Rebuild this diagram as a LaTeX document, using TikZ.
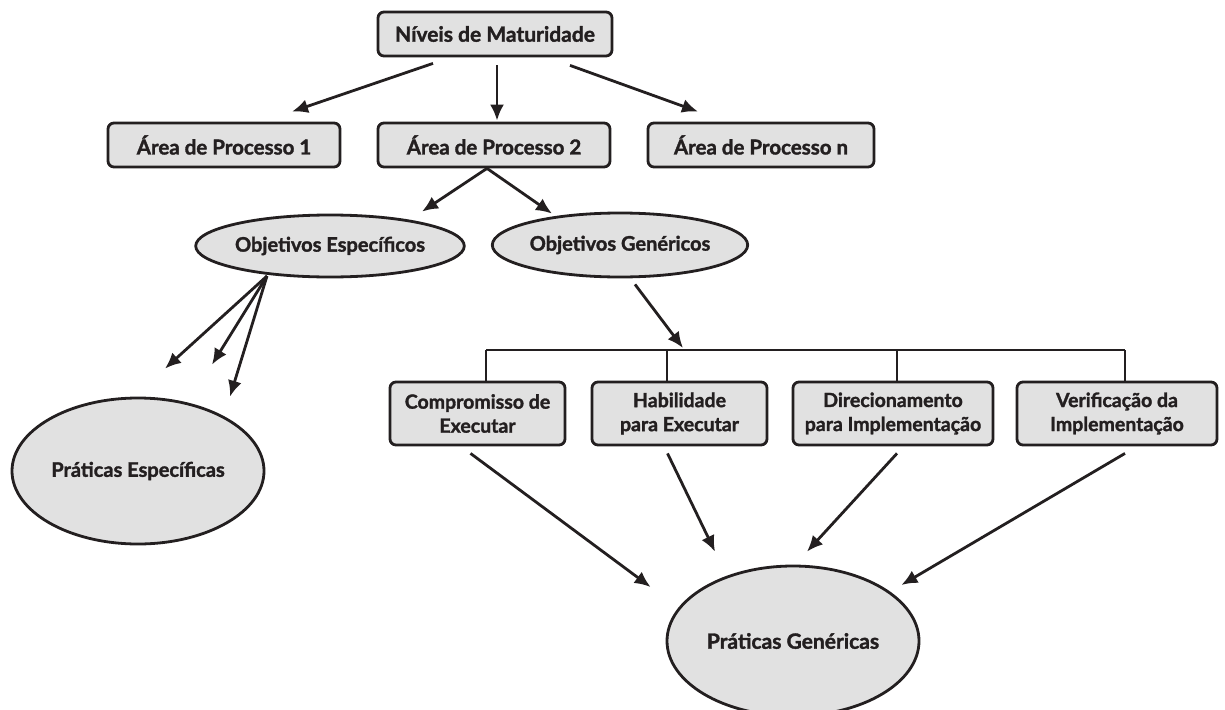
\documentclass[tikz,border=0pt]{standalone}
\usepackage{fontspec}
\setmainfont{Lato}[BoldFeatures={FakeBold=1.6}]
\usetikzlibrary{arrows.meta,calc,shapes.geometric}
\definecolor{boxfill}{HTML}{E1E1E1}
\definecolor{ink}{HTML}{231F20}
\begin{document}
\begin{tikzpicture}[x=1pt,y=-1pt,
  every node/.style={text=ink},
  box/.style={draw=ink, line width=2.8pt, fill=boxfill, rounded corners=6pt,
    minimum height=44pt, inner sep=0pt, font=\fontsize{20.5}{24}\selectfont\bfseries},
  lowbox/.style={draw=ink, line width=2.8pt, fill=boxfill, rounded corners=6pt,
    minimum height=63pt, inner sep=0pt, align=center,
    font=\fontsize{19.5}{24}\selectfont\bfseries},
  oval/.style={draw=ink, line width=2.8pt, fill=boxfill, ellipse, inner sep=0pt,
    font=\fontsize{20}{24}\selectfont\bfseries},
  arr/.style={draw=ink, line width=2.8pt, -{Latex[length=16pt,width=14pt]}},
  bus/.style={draw=ink, line width=2.8pt}
]
\useasboundingbox (0,0) rectangle (1225,709);

% top level
\node[box, minimum width=234pt, font=\fontsize{21}{24}\selectfont\bfseries] (niv) at (495,34) {Níveis de Maturidade};

% process areas
\node[box, minimum width=232pt] (a1) at (224,145) {Área de Processo 1};
\node[box, minimum width=232pt] (a2) at (494,145) {Área de Processo 2};
\node[box, minimum width=226pt] (an) at (761,145) {Área de Processo n};

% goals
\node[oval, minimum width=234pt, minimum height=62pt] (oe) at (330,246) {Objetivos Específicos};
\node[oval, minimum width=184pt, minimum height=64pt] (og) at (620,245) {Objetivos Genéricos};

% practices
\node[oval, minimum width=252pt, minimum height=146pt] (pe) at (138,471) {Práticas Específicas};
\node[oval, minimum width=252pt, minimum height=150pt, font=\fontsize{21}{24}\selectfont\bfseries] (pg) at (793,641) {Práticas Genéricas};

% common features
\node[lowbox, minimum width=175pt] (c1) at (477.5,413.5) {Compromisso de\\Executar};
\node[lowbox, minimum width=175pt] (c2) at (679.5,413.5) {Habilidade\\para Executar};
\node[lowbox, minimum width=200pt] (c3) at (893,413.5) {Direcionamento\\para Implementação};
\node[lowbox, minimum width=200pt] (c4) at (1117,413.5) {Verificação da\\Implementação};

% bus feeding the common features
\coordinate (b1) at (486,350);
\coordinate (b2) at (667,350);
\coordinate (b3) at (897,350);
\coordinate (b4) at (1125,350);
\draw[bus] (b1) -- (b4);
\draw[bus] (b1) -- (b1 |- c1.north);
\draw[bus] (b2) -- (b2 |- c2.north);
\draw[bus] (b3) -- (b3 |- c3.north);
\draw[bus] (b4) -- (b4 |- c4.north);

% levels to areas
\draw[arr] ($(niv.south)+(-62,6)$) -- ($(a1.north)+(68,-10)$);
\draw[arr] ($(niv.south)+(2,8)$) -- ($(a2.north)+(3,-1)$);
\draw[arr] ($(niv.south)+(75,8)$) -- ($(an.north)+(-63,-10)$);

% area to goals
\draw[arr] ($(a2.south)+(-7,0)$) -- ($(oe.north)+(92,-2)$);
\draw[arr] ($(a2.south)+(-7,0)$) -- ($(og.north)+(-68,2)$);

% specific goals to specific practices
\coordinate (fan) at (267,276);
\draw[arr] (fan) -- ($(pe.north)+(27,-28)$);
\draw[arr] (fan) -- ($(pe.north)+(74,-32)$);
\draw[arr] (fan) -- ($(pe.north)+(92,0)$);

% generic goals to the bus
\draw[arr] ($(og.south)+(15,6)$) -- ($(b2)+(16,-2)$);

% common features to generic practices
\draw[arr] ($(c1.south)+(-7,7)$) -- ($(pg.west)+(-15,-54)$);
\draw[arr] ($(c2.south)+(-12,7)$) -- ($(pg.north)+(-78,-13)$);
\draw[arr] ($(c3.south)+(4,7)$) -- ($(pg.north)+(14,-13)$);
\draw[arr] ($(c4.south)+(8,7)$) -- ($(pg.east)+(-19,-56)$);
\end{tikzpicture}
\end{document}
